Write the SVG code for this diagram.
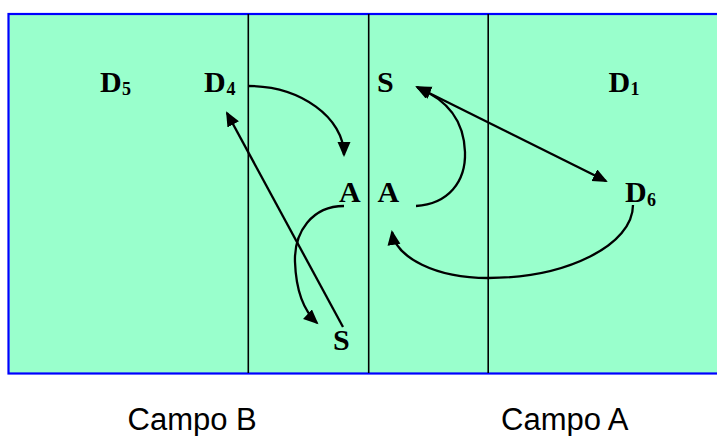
<svg xmlns="http://www.w3.org/2000/svg" width="717" height="436" viewBox="0 0 717 436">
  <style>
    .lbl { font-family: "Liberation Serif", "Times New Roman", serif; font-weight: bold; font-size: 30px; fill: #000; }
    .sub { font-family: "Liberation Serif", "Times New Roman", serif; font-weight: bold; font-size: 18px; fill: #000; }
    .cap { font-family: "Liberation Sans", Arial, sans-serif; font-size: 31px; fill: #000; }
    .div { stroke: #000; stroke-width: 1.6; fill: none; }
    .con { stroke: #000; stroke-width: 2.3; fill: none; marker-end: url(#ah); }
  </style>
  <defs>
    <marker id="ah" markerUnits="userSpaceOnUse" markerWidth="16" markerHeight="14" refX="13" refY="6.5" orient="auto-start-reverse" viewBox="0 0 16 14">
      <path d="M0,0 L15,6.5 L0,13 z" fill="#000"/>
    </marker>
  </defs>

  <g id="field">
    <rect x="8.5" y="14" width="720" height="359.5" fill="#99FFCC" stroke="#0000FF" stroke-width="2.2"/>
    <line class="div" x1="248.3" y1="14" x2="248.3" y2="373"/>
    <line class="div" x1="368.7" y1="14" x2="368.7" y2="373"/>
    <line class="div" x1="488.2" y1="14" x2="488.2" y2="373"/>
  </g>

  <g id="connectors">
    <path class="con" d="M248,86 C301,86 344,118 344,155"/>
    <path class="con" d="M344,206 C312,206 294,232 295,262 C296,290 303,310 317,323"/>
    <path class="con" d="M343,327 L227,113"/>
    <path class="con" d="M416,206 C448,204 466,182 465,152 C464,122 448,100 418,88"/>
    <path class="con" d="M417,87 L606,181" marker-start="url(#ah)"/>
    <path class="con" d="M633,205 C633,245 567,278 488,278 C436,278 396,258 392,232"/>
  </g>

  <g id="D5"><text class="lbl" x="100" y="92">D</text><text class="sub" x="122" y="95">5</text></g>
  <g id="D4"><text class="lbl" x="204" y="92">D</text><text class="sub" x="226.5" y="95">4</text></g>
  <g id="S-top"><text class="lbl" x="377" y="92">S</text></g>
  <g id="D1"><text class="lbl" x="608.5" y="92">D</text><text class="sub" x="630.5" y="95">1</text></g>
  <g id="A-left"><text class="lbl" x="339" y="202">A</text></g>
  <g id="A-right"><text class="lbl" x="377.5" y="202">A</text></g>
  <g id="D6"><text class="lbl" x="625" y="202">D</text><text class="sub" x="647" y="206">6</text></g>
  <g id="S-bottom"><text class="lbl" x="333" y="350">S</text></g>

  <g id="campo-B"><text class="cap" x="127.5" y="430">Campo B</text></g>
  <g id="campo-A"><text class="cap" x="501" y="430">Campo A</text></g>
</svg>
